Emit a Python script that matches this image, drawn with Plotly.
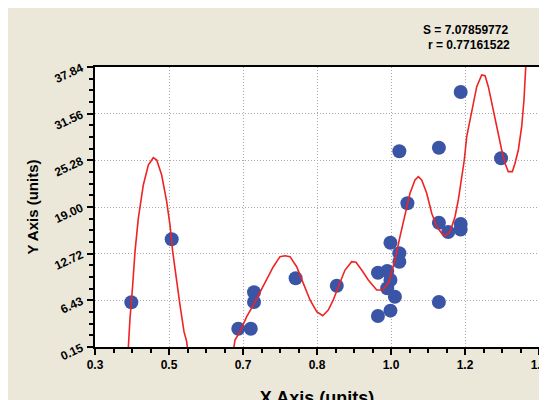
import plotly.graph_objects as go

# Scatter data points
pts_x = [0.390, 0.490, 0.655, 0.686, 0.694, 0.694, 0.797, 0.899,
         1.001, 1.024, 1.032, 1.024, 1.043, 1.032, 1.001, 1.032,
         1.054, 1.054, 1.054, 1.074, 1.152, 1.152, 1.175, 1.206,
         1.206, 1.152, 1.206, 1.306]
pts_y = [6.17, 14.65, 2.61, 2.61, 7.51, 6.21, 9.40, 8.40,
         10.15, 10.38, 9.17, 8.05, 6.92, 5.04, 4.32, 14.19,
         12.76, 11.63, 26.49, 19.49, 26.98, 16.88, 15.63, 16.70,
         15.95, 6.21, 34.47, 25.55]

# Fitted curve
fit_x = [0.372, 0.378, 0.382, 0.3867, 0.3934, 0.3991, 0.4073, 0.4197, 0.4321,
         0.4444, 0.4529, 0.4652, 0.4776, 0.4858, 0.4925, 0.5007, 0.5106,
         0.5205, 0.5272, 0.535, 0.55, 0.58, 0.61, 0.63, 0.64,
         0.6468, 0.6592, 0.6758, 0.6922, 0.7088, 0.7254, 0.7418, 0.7583,
         0.7707, 0.7831, 0.7997, 0.8161, 0.8327, 0.8493, 0.8641, 0.8780,
         0.8904, 0.9028, 0.9194, 0.9360, 0.9466, 0.9607, 0.9771, 0.9979,
         1.0128, 1.0267, 1.0330, 1.0432, 1.0556, 1.0680, 1.0804, 1.0928,
         1.1010, 1.1094, 1.1218, 1.1342, 1.1466, 1.1590, 1.1671, 1.1795,
         1.1919, 1.2001, 1.2085, 1.2149, 1.2209, 1.2333, 1.2457, 1.2581,
         1.2663, 1.2745, 1.2829, 1.2911, 1.2992, 1.3076, 1.3158, 1.3240,
         1.3339, 1.3406, 1.3488, 1.3571, 1.3628, 1.3670, 1.3695, 1.375]
fit_y = [-10.0, -4.0, 0.15, 4.01, 8.50, 12.98, 17.47, 21.96, 24.65,
         25.63, 25.32, 23.30, 19.71, 16.57, 12.98, 9.40, 5.80,
         2.21, 0.86, -3.0, -10.0, -18.0, -12.0, -5.0, -1.5,
         1.09, 2.21, 4.23, 5.80, 7.59, 9.26, 10.96, 12.31,
         12.44, 12.31, 10.96, 8.72, 6.48, 4.90, 4.36, 5.13,
         6.48, 8.27, 10.51, 11.63, 11.55, 10.51, 9.17, 7.82,
         7.82, 8.72, 9.80, 11.86, 15.00, 18.15, 20.84, 22.63,
         23.07, 22.63, 20.84, 18.15, 16.34, 15.45, 15.09, 15.67,
         17.69, 19.94, 23.07, 25.32, 28.46, 32.05, 35.19, 36.76,
         36.67, 35.19, 32.95, 30.71, 28.92, 26.67, 24.88, 23.75,
         23.75, 24.88, 26.67, 29.80, 33.40, 36.53, 38.80, 46.0]

x_min, x_max = 0.3, 1.4
y_min, y_max = 0.15, 37.84
x_labels = ["0.3", "0.5", "0.7", "0.8", "1.0", "1.2", "1.4"]
y_labels = ["0.15", "6.43", "12.72", "19.00", "25.28", "31.56", "37.84"]

stats_text = ["S = 7.07859772", "r = 0.77161522"]

FONT = "Liberation Sans, Arial, sans-serif"

x_dtick = (x_max - x_min) / 6
y_dtick = (y_max - y_min) / 6
x_alias = {f"{x_min + k * x_dtick:.4f}": lab for k, lab in enumerate(x_labels)}
y_alias = {f"{y_min + k * y_dtick:.4f}": lab for k, lab in enumerate(y_labels)}

fig = go.Figure()
fig.add_trace(go.Scatter(
    x=pts_x, y=pts_y, mode="markers",
    marker=dict(color="#3A55A5", size=14, line=dict(width=0)),
    cliponaxis=False, showlegend=False))
fig.add_trace(go.Scatter(
    x=fit_x, y=fit_y, mode="lines",
    line=dict(color="#EE2424", width=1.6),
    showlegend=False))

tickfont = dict(family=FONT, size=12, color="black", weight="bold")
GRID = dict(showgrid=True, gridcolor="#A8A8A8", griddash="1px,2px", gridwidth=1)

fig.update_layout(
    width=547, height=400,
    margin=dict(l=87, r=16, t=59, b=61),
    paper_bgcolor="#EBE8DA",
    plot_bgcolor="white",
    font=dict(family=FONT, color="black"),
    xaxis=dict(
        range=[x_min, x_max + 1e-9], tickmode="linear", tick0=x_min, dtick=x_dtick,
        tickformat=".4f", labelalias=x_alias, ticklabeloverflow="allow",
        tickfont=tickfont, ticks="outside", ticklen=6, tickwidth=1.5, tickcolor="black",
        showline=True, linecolor="black", linewidth=2, mirror=True,
        zeroline=False,
        minor=dict(tick0=x_min, dtick=x_dtick / 4, ticks="outside",
                   ticklen=4, tickwidth=1.5, tickcolor="black", showgrid=False),
        title=dict(text="X Axis (units)", standoff=20,
                   font=dict(family=FONT, size=18, color="black", weight="bold")),
        automargin=False,
        **GRID,
    ),
    yaxis=dict(
        range=[y_min, y_max + 1e-9], tickmode="linear", tick0=y_min, dtick=y_dtick,
        tickformat=".4f", labelalias=y_alias, ticklabeloverflow="allow",
        tickfont=tickfont, tickangle=-25, ticks="outside", ticklen=6, tickwidth=1.5,
        tickcolor="black", ticklabelstandoff=3,
        showline=True, linecolor="black", linewidth=2, mirror=True,
        zeroline=False,
        minor=dict(tick0=y_min, dtick=y_dtick / 4, ticks="outside",
                   ticklen=4, tickwidth=1.5, tickcolor="black", showgrid=False),
        title=dict(text="Y Axis (units)", standoff=10,
                   font=dict(family=FONT, size=15, color="black", weight="bold")),
        automargin=False,
        **GRID,
    ),
    annotations=[
        dict(text=stats_text[0], xref="paper", yref="paper", x=1, y=1,
             xanchor="right", yanchor="middle", xshift=-29, yshift=37,
             showarrow=False, font=dict(family=FONT, size=12, color="black", weight="bold")),
        dict(text=stats_text[1], xref="paper", yref="paper", x=1, y=1,
             xanchor="right", yanchor="middle", xshift=-27, yshift=22,
             showarrow=False, font=dict(family=FONT, size=12, color="black", weight="bold")),
    ],
)

fig.write_html("out.html")
